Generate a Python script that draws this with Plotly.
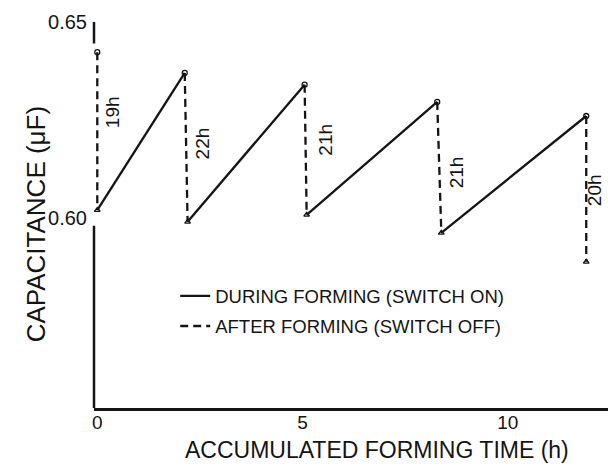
import plotly.graph_objects as go

# Forming (switch on) segments: start/end time (h) and capacitance (uF)
on_t_start = [0.0, 2.20, 5.10, 8.38]
on_c_start = [0.602, 0.599, 0.6008, 0.5962]
on_t_end = [2.13, 5.05, 8.28, 11.91]
on_c_end = [0.637, 0.634, 0.6296, 0.626]

# After forming (switch off) segments: drop during rest period
off_t = [0.0, 2.13, 5.05, 8.28, 11.91]
off_c_top = [0.6423, 0.637, 0.634, 0.6296, 0.626]
off_t_bot = [0.0, 2.20, 5.10, 8.38, 11.91]
off_c_bot = [0.602, 0.599, 0.6008, 0.5962, 0.5888]

# rest-period labels
rest_labels = ["19h", "22h", "21h", "21h", "20h"]
rest_label_t = [0.36, 2.55, 5.55, 8.75, 12.1]
rest_label_c = [0.627, 0.619, 0.620, 0.6115, 0.6071]

x_ticks = [0, 5, 10]
y_ticks = [0.60, 0.65]

INK = "#141414"
FONT = "Liberation Sans, Arial, Helvetica, sans-serif"

fig = go.Figure()

for i in range(len(on_t_start)):
    fig.add_trace(go.Scatter(
        x=[on_t_start[i], on_t_end[i]], y=[on_c_start[i], on_c_end[i]],
        mode="lines", line=dict(color=INK, width=2.3),
        name="DURING FORMING (SWITCH ON)", legendgroup="on",
        showlegend=(i == 0), hoverinfo="skip"))

for i in range(len(off_t)):
    fig.add_trace(go.Scatter(
        x=[off_t[i], off_t_bot[i]], y=[off_c_top[i], off_c_bot[i]],
        mode="lines",
        line=dict(color=INK, width=2.3, dash="8px,5px"),
        name="AFTER FORMING (SWITCH OFF)", legendgroup="off",
        showlegend=(i == 0), hoverinfo="skip"))

# end-point markers
fig.add_trace(go.Scatter(
    x=off_t, y=off_c_top, mode="markers", showlegend=False, hoverinfo="skip",
    cliponaxis=False,
    marker=dict(symbol="circle-open", size=5, color=INK, line=dict(width=1.3, color=INK))))
fig.add_trace(go.Scatter(
    x=off_t_bot, y=off_c_bot, mode="markers", showlegend=False, hoverinfo="skip",
    cliponaxis=False,
    marker=dict(symbol="triangle-up-open", size=5, color=INK, line=dict(width=1.3, color=INK))))

for lab, t, c in zip(rest_labels, rest_label_t, rest_label_c):
    fig.add_annotation(x=t, y=c, text=lab, textangle=-90, showarrow=False,
                       xanchor="center", yanchor="middle",
                       font=dict(size=19, color=INK, family=FONT))

# y axis line drawn in two pieces (the 19h dashed drop runs along it)
fig.add_shape(type="line", xref="paper", yref="y", x0=0, x1=0,
              y0=0.5515, y1=0.598, line=dict(color=INK, width=2.5))
fig.add_shape(type="line", xref="paper", yref="y", x0=0, x1=0,
              y0=0.6445, y1=0.65, line=dict(color=INK, width=2.5))

# axis titles
fig.add_annotation(xref="paper", yref="paper", x=-0.113, y=0.45,
                   xanchor="center", yanchor="middle",
                   text="CAPACITANCE (\u03bcF)", textangle=-90, showarrow=False,
                   font=dict(size=26, color=INK, family=FONT))
fig.add_annotation(xref="paper", yref="paper", x=0.55, y=-0.104,
                   xanchor="center", yanchor="middle",
                   text="ACCUMULATED FORMING TIME (h)", showarrow=False,
                   font=dict(size=23, color=INK, family=FONT))

fig.update_layout(
    width=608, height=466,
    margin=dict(l=94, r=0, t=0, b=58),
    paper_bgcolor="white", plot_bgcolor="white",
    font=dict(family=FONT, color=INK),
    showlegend=True,
    legend=dict(x=0.158, y=0.32, xanchor="left", yanchor="top",
                bgcolor="rgba(0,0,0,0)", font=dict(size=18.5, color=INK, family=FONT),
                tracegroupgap=3, itemwidth=30),
    xaxis=dict(range=[-0.08, 12.44], tickvals=x_ticks, ticktext=[str(v) for v in x_ticks],
               showgrid=False, zeroline=False, showline=True, linecolor=INK, linewidth=2.5,
               ticks="", ticklen=0, tickfont=dict(size=19, color=INK), ticklabelstandoff=-5),
    yaxis=dict(range=[0.5515, 0.6556], tickvals=y_ticks, ticktext=["0.60", "0.65"],
               showgrid=False, zeroline=False, showline=False,
               ticks="", ticklen=0, tickfont=dict(size=20, color=INK), ticklabelstandoff=6),
)

fig.write_html("out.html", config={"displayModeBar": False},
               post_script="document.body.style.margin='0';")
